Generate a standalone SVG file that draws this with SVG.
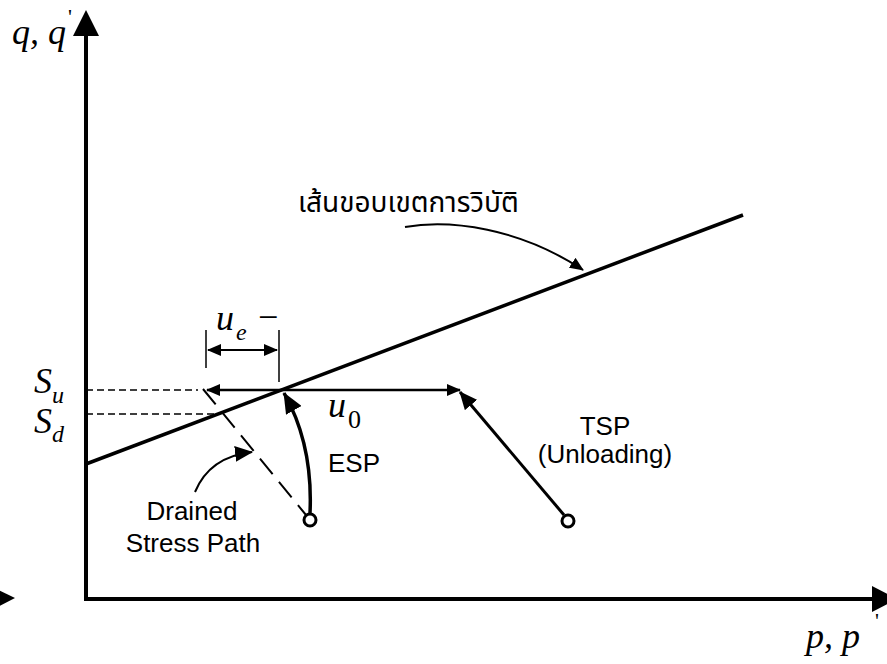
<svg xmlns="http://www.w3.org/2000/svg" width="887" height="664" viewBox="0 0 887 664">
<style>
.math{font-family:"Liberation Serif","Times New Roman",serif;font-style:italic;fill:#000}
.up{font-family:"Liberation Serif","Times New Roman",serif;fill:#000}
.lbl{font-family:"Liberation Sans",Arial,sans-serif;font-size:26px;fill:#000}
.thai{font-family:"Noto Sans Thai","Noto Sans Thai Looped","Loma","Garuda","Liberation Sans","DejaVu Sans",sans-serif;font-size:28px;fill:#000}
.ln{fill:none;stroke:#000}
</style>
<defs>
<marker id="sm" viewBox="0 0 14 12" refX="13" refY="6" markerWidth="14" markerHeight="12" markerUnits="userSpaceOnUse" orient="auto-start-reverse"><path d="M0,0 L14,6 L0,12 z" fill="#000"/></marker>
<marker id="md" viewBox="0 0 18 16" refX="17" refY="8" markerWidth="18" markerHeight="16" markerUnits="userSpaceOnUse" orient="auto"><path d="M0,0 L18,8 L0,16 z" fill="#000"/></marker>
<marker id="lg" viewBox="0 0 21 18" refX="20" refY="9" markerWidth="21" markerHeight="18" markerUnits="userSpaceOnUse" orient="auto"><path d="M0,0 L21,9 L0,18 z" fill="#000"/></marker>
</defs>

<g id="axes">
<polyline class="ln" points="86,34 86,599 874,599" stroke-width="4"/>
<polygon points="86,10 73,36 99,36" fill="#000"/>
<polygon points="897,599 872,586 872,612" fill="#000"/>
<polygon points="-10,586 15,598 -10,611" fill="#000"/>
</g>

<g id="failure-line">
<line class="ln" x1="86" y1="464" x2="743" y2="215" stroke-width="3.5"/>
</g>

<g id="connectors">
<line class="ln" x1="86" y1="390" x2="198" y2="390" stroke-width="1.3" stroke-dasharray="7,4"/>
<line class="ln" x1="86" y1="414" x2="214" y2="414" stroke="#555" stroke-width="1.3" stroke-dasharray="7,4"/>
<line class="ln" x1="206" y1="330" x2="206" y2="368" stroke="#666" stroke-width="1.5"/>
<line class="ln" x1="279" y1="330" x2="279" y2="382" stroke="#666" stroke-width="1.5"/>
<line class="ln" x1="208" y1="350" x2="277" y2="350" stroke-width="2" marker-start="url(#sm)" marker-end="url(#sm)"/>
<line class="ln" x1="280" y1="390" x2="207" y2="390" stroke-width="2.5" marker-end="url(#sm)"/>
<line class="ln" x1="280" y1="390" x2="460" y2="390" stroke-width="2.5" marker-end="url(#sm)"/>
<line class="ln" x1="564" y1="515" x2="460" y2="392" stroke-width="3" marker-end="url(#md)"/>
<path class="ln" d="M310,513 C312,470 305,430 284,393" stroke-width="3.5" marker-end="url(#lg)"/>
<line class="ln" x1="203" y1="389" x2="306" y2="515" stroke-width="2" stroke-dasharray="20,10"/>
<path class="ln" d="M195,492 C205,468 225,455 252,452" stroke-width="2" marker-end="url(#md)"/>
<path class="ln" d="M405,227 C450,219 520,228 583,270" stroke-width="2" marker-end="url(#sm)"/>
</g>

<g id="esp-start"><circle cx="310" cy="520" r="6" fill="#fff" stroke="#000" stroke-width="3"/></g>
<g id="tsp-start"><circle cx="568" cy="521" r="6" fill="#fff" stroke="#000" stroke-width="3"/></g>

<g id="labels">
<text class="math" x="12" y="44" font-size="36">q, q</text>
<text class="up" x="68" y="24" font-size="22">'</text>
<text class="math" x="806" y="648" font-size="36">p, p</text>
<text class="up" x="875" y="628" font-size="22">'</text>
<text class="math" x="34" y="393" font-size="36">S</text>
<text class="math" x="52" y="403" font-size="24">u</text>
<text class="math" x="34" y="433" font-size="36">S</text>
<text class="math" x="52" y="442" font-size="24">d</text>
<text class="math" x="216" y="330" font-size="36">u</text>
<text class="math" x="236" y="340" font-size="24">e</text>
<text class="up" x="258" y="329" font-size="36">−</text>
<text class="math" x="328" y="417" font-size="36">u</text>
<text class="up" x="348" y="428" font-size="26">0</text>
<text class="lbl" x="328" y="472">ESP</text>
<text class="lbl" x="605" y="435" text-anchor="middle">TSP</text>
<text class="lbl" x="605" y="463" text-anchor="middle">(Unloading)</text>
<text class="lbl" x="192" y="520" text-anchor="middle">Drained</text>
<text class="lbl" x="193" y="552" text-anchor="middle">Stress Path</text>
<text class="thai" x="298" y="212">เส้นขอบเขตการวิบัติ</text>
</g>
</svg>
